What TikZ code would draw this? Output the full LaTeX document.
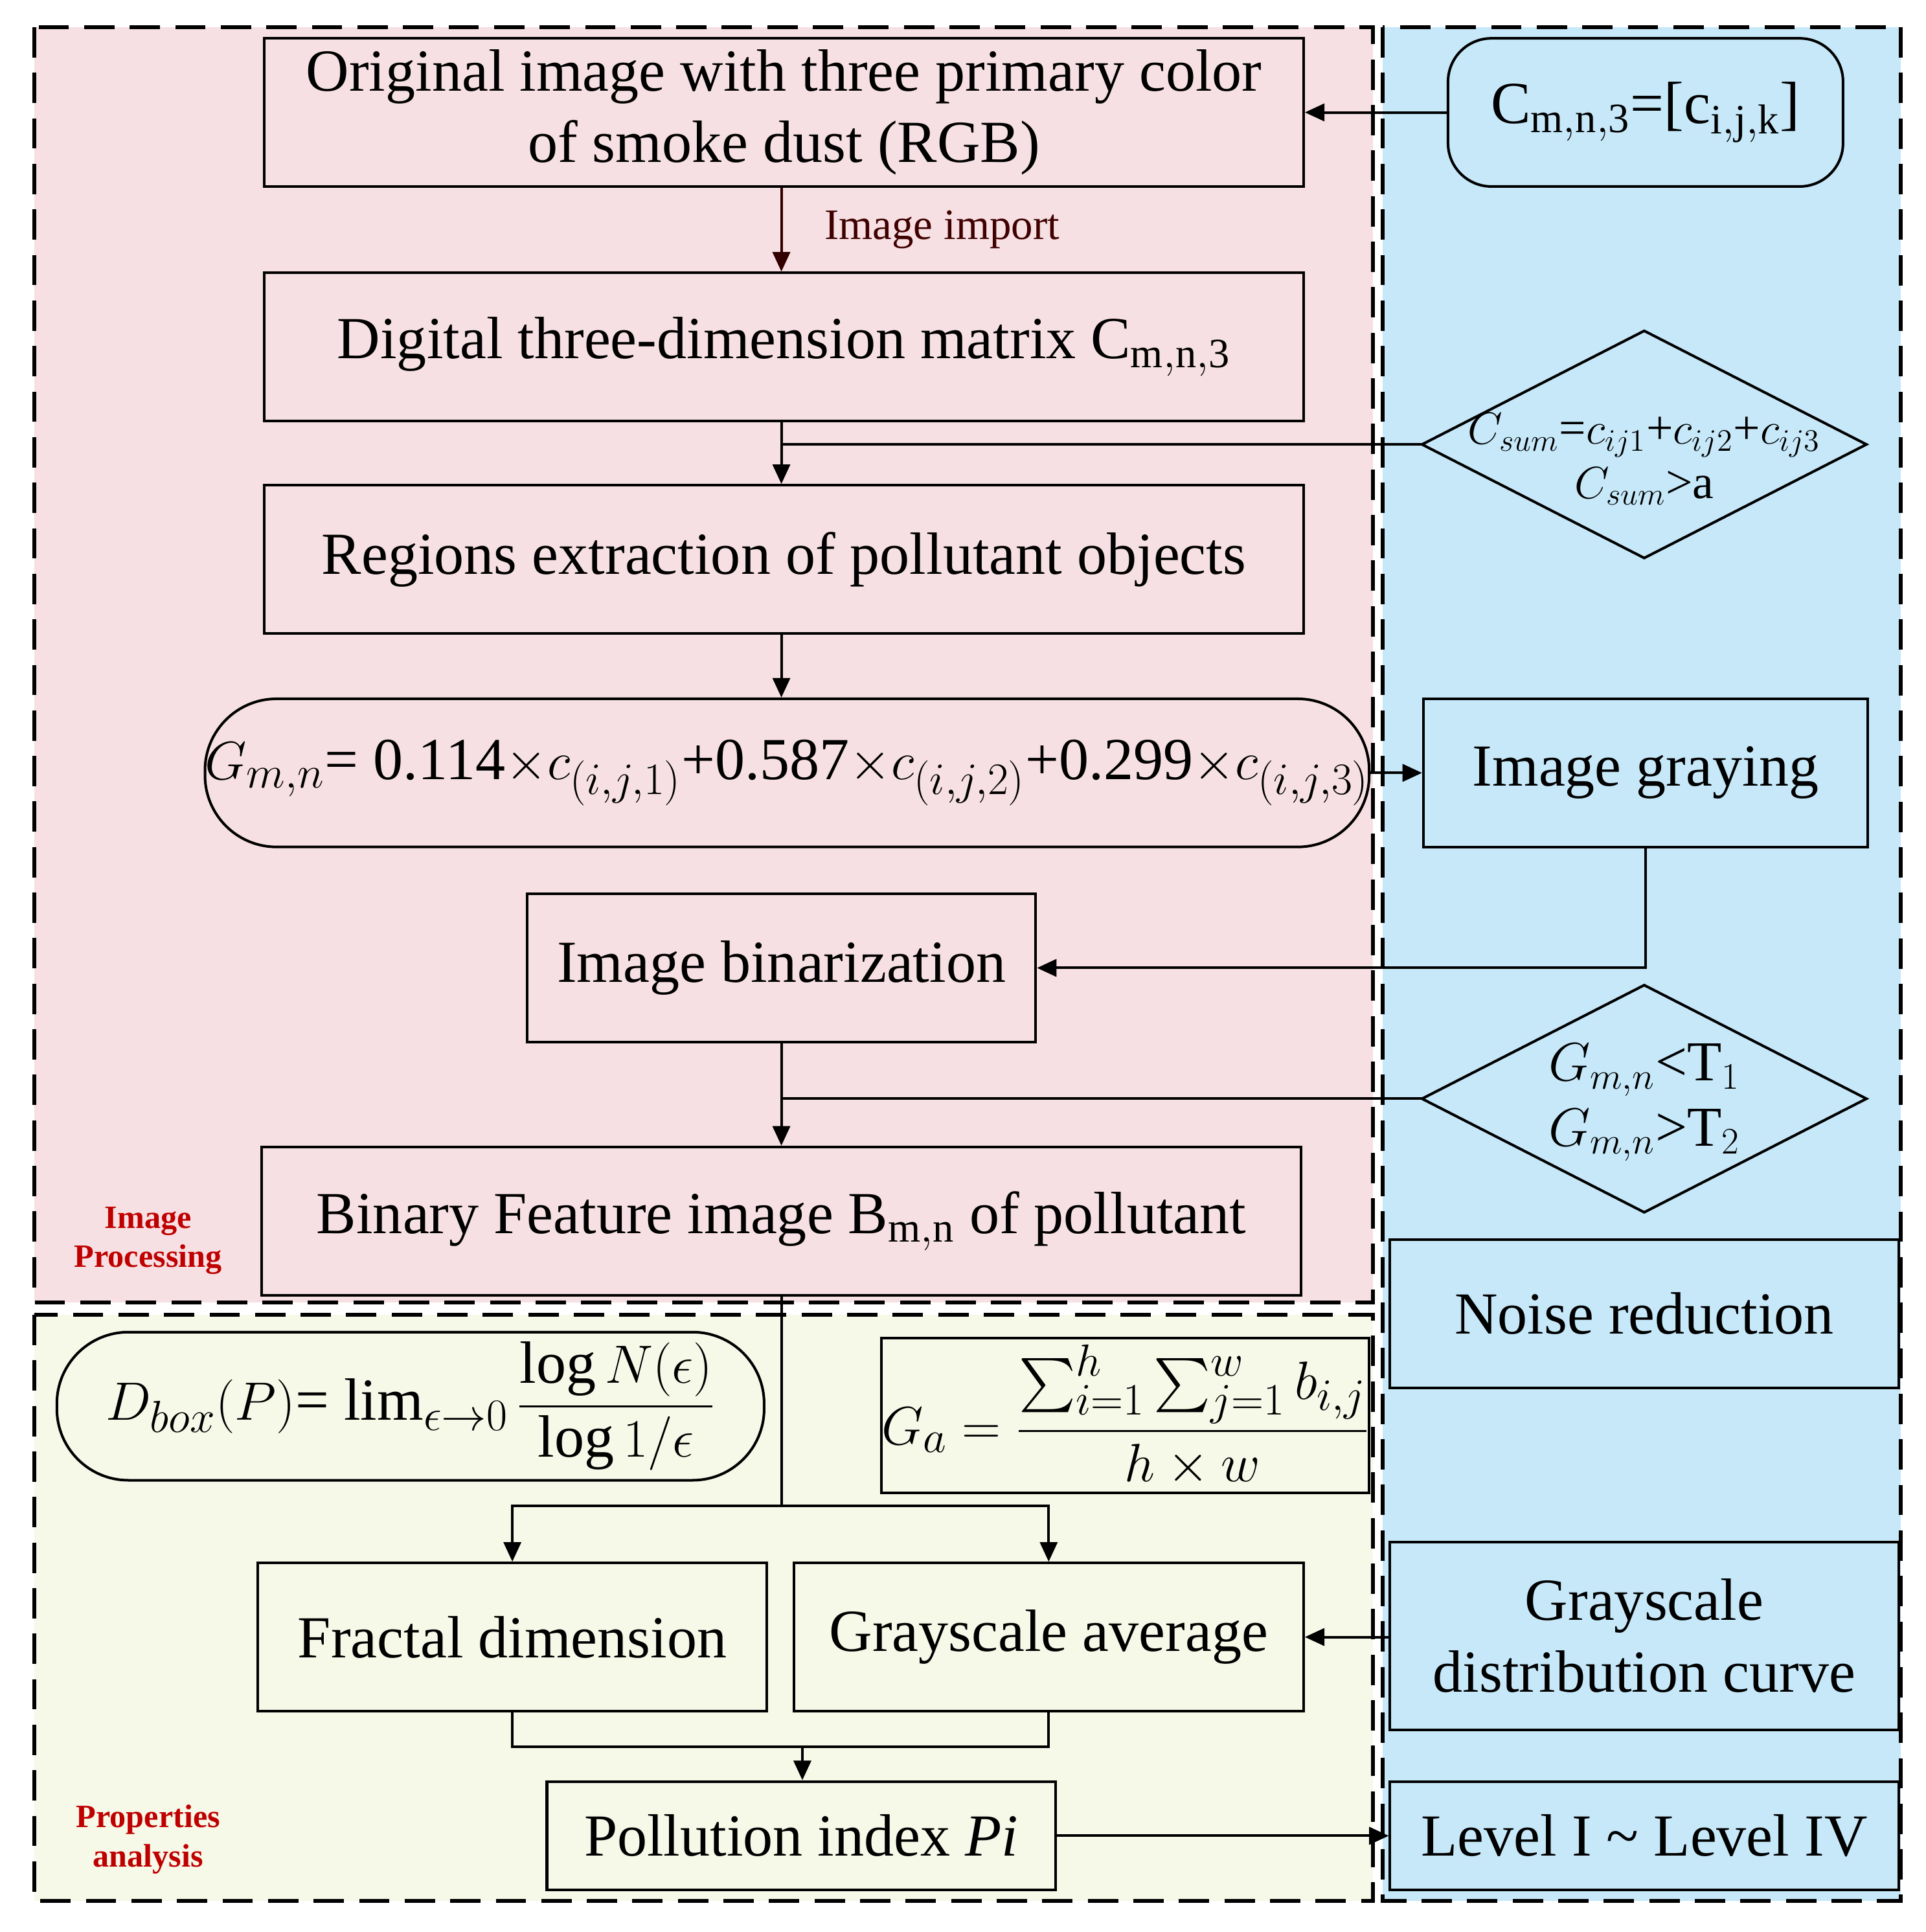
\documentclass[tikz,border=0pt]{standalone}
\usepackage{amsmath}
\usepackage{fontspec}
\setmainfont{Liberation Serif}
\usetikzlibrary{shapes.geometric,arrows.meta}
\definecolor{pinkbg}{RGB}{246,224,227}
\definecolor{bluebg}{RGB}{198,232,249}
\definecolor{yelbg}{RGB}{246,248,232}
\definecolor{lblred}{RGB}{192,0,0}
\begin{document}
\begin{tikzpicture}[x=0.02cm,y=-0.02cm,
  bx/.style={draw,line width=1.2pt,anchor=north west,inner sep=0pt,align=center,font=\fontsize{27.5}{33}\selectfont},
  rb/.style={bx,rounded corners=30pt},
  region/.style={dash pattern=on 14pt off 7pt,line width=1.8pt},
  ar/.style={line width=1.2pt,-{Triangle[length=9pt,width=8pt]}},
  ln/.style={line width=1.2pt},
  lbl/.style={font=\fontsize{15}{18}\selectfont\bfseries,text=lblred,align=center}]
\useasboundingbox (0,0) rectangle (1560,1565);
\fill[white] (0,0) rectangle (1560,1565);
\fill[bluebg] (1120,22) rectangle (1540,1540);
\fill[pinkbg] (28,22) rectangle (1112,1055);
\fill[yelbg] (28,1065) rectangle (1112,1540);
\draw[region] (1120,22) rectangle (1540,1540);
\draw[region] (28,22) rectangle (1112,1055);
\draw[region] (28,1065) rectangle (1112,1540);

\node[bx,minimum width=842*0.02cm,minimum height=120*0.02cm] (b1) at (213,30) {Original image with three primary color\\of smoke dust (RGB)};
\node[bx,rounded corners=20pt,minimum width=320*0.02cm,minimum height=120*0.02cm] (cm) at (1172,30) {C$_{\mathrm{m,n,3}}$=[c$_{\mathrm{i,j,k}}$]};
\node[bx,minimum width=842*0.02cm,minimum height=120*0.02cm] (b2) at (213,220) {Digital three-dimension matrix C$_{\mathrm{m,n,3}}$};
\node[bx,minimum width=842*0.02cm,minimum height=120*0.02cm] (b3) at (213,392) {Regions extraction of pollutant objects};
\draw[ln] (1152,360) coordinate (d1w) -- (1332,268) -- (1512,360) -- (1332,452) -- cycle;
\node[align=center,font=\fontsize{22}{25}\selectfont] (d1) at (1332,372) {$C_{sum}$=$c_{ij1}$+$c_{ij2}$+$c_{ij3}$\\$C_{sum}$>a};
\node[bx,rounded corners=33pt,minimum width=937*0.02cm,minimum height=120*0.02cm] (g) at (165,565) {$G_{m,n}$= 0.114$\times c_{(i,j,1)}$+0.587$\times c_{(i,j,2)}$+0.299$\times c_{(i,j,3)}$};
\node[bx,minimum width=360*0.02cm,minimum height=120*0.02cm] (gr) at (1152,565) {Image graying};
\node[bx,minimum width=412*0.02cm,minimum height=120*0.02cm] (bin) at (426,723) {Image binarization};
\draw[ln] (1152,890) coordinate (d2w) -- (1332,798) -- (1512,890) -- (1332,982) -- cycle;
\node[align=center,font=\fontsize{26}{30}\selectfont] (d2) at (1332,893) {$G_{m,n}$<T$_1$\\$G_{m,n}$>T$_2$};
\node[bx,minimum width=842*0.02cm,minimum height=120*0.02cm] (bf) at (211,928) {Binary Feature image B$_{\mathrm{m,n}}$ of pollutant};
\node[bx,minimum width=412*0.02cm,minimum height=120*0.02cm] (nr) at (1125,1003) {Noise reduction};
\node[bx,rounded corners=33pt,minimum width=573*0.02cm,minimum height=120*0.02cm] (db) at (45,1078) {$D_{box}(P)$= $\lim_{\epsilon\to0}\dfrac{\log N(\epsilon)}{\log 1/\epsilon}$};
\node[bx,minimum width=340*0.02cm,minimum height=125*0.02cm] (ga) at (713,1083) {$G_a=\dfrac{\sum_{i=1}^{h}\sum_{j=1}^{w}b_{i,j}}{h\times w}$};
\node[bx,minimum width=412*0.02cm,minimum height=120*0.02cm] (fd) at (208,1265) {Fractal dimension};
\node[bx,minimum width=413*0.02cm,minimum height=120*0.02cm] (gav) at (642,1265) {Grayscale average};
\node[bx,minimum width=412*0.02cm,minimum height=152*0.02cm] (gdc) at (1125,1248) {Grayscale\\distribution curve};
\node[bx,minimum width=412*0.02cm,minimum height=88*0.02cm] (pi) at (442,1442) {Pollution index \textit{Pi}};
\node[bx,minimum width=412*0.02cm,minimum height=88*0.02cm] (lv) at (1125,1442) {Level I \textasciitilde{} Level IV};

\node[lbl] at (120,1005) {Image\\Processing};
\node[lbl] at (120,1490) {Properties\\analysis};

\draw[ar] (cm.west) -- (b1.east |- cm.west);
\draw[ar,draw=black!80!red] (b1.south -| 633,0) -- node[right=16pt,font=\fontsize{20}{22}\selectfont,text=black!75!red]{Image import} (b2.north -| 633,0);
\draw[ar] (b2.south -| 633,0) -- (b3.north -| 633,0);
\draw[ln] (d1w) -- (633,360);
\draw[ar] (b3.south -| 633,0) -- (g.north -| 633,0);
\draw[ar] (g.east) -- (gr.west);
\draw[ar] (gr.south) |- (bin.east);
\draw[ar] (bin.south -| 633,0) -- (bf.north -| 633,0);
\draw[ln] (d2w) -- (633,890);
\coordinate (j1) at (633,1220);
\draw[ln] (bf.south -| 633,0) -- (j1);
\draw[ar] (j1) -| (fd.north);
\draw[ar] (j1) -| (gav.north);
\draw[ar] (gdc.west |- gav.east) -- (gav.east);
\coordinate (j2) at (650,1415);
\draw[ln] (fd.south) |- (j2) -| (gav.south);
\draw[ar] (j2) -- (pi.north -| j2);
\draw[ar] (pi.east) -- (lv.west);
\end{tikzpicture}
\end{document}
